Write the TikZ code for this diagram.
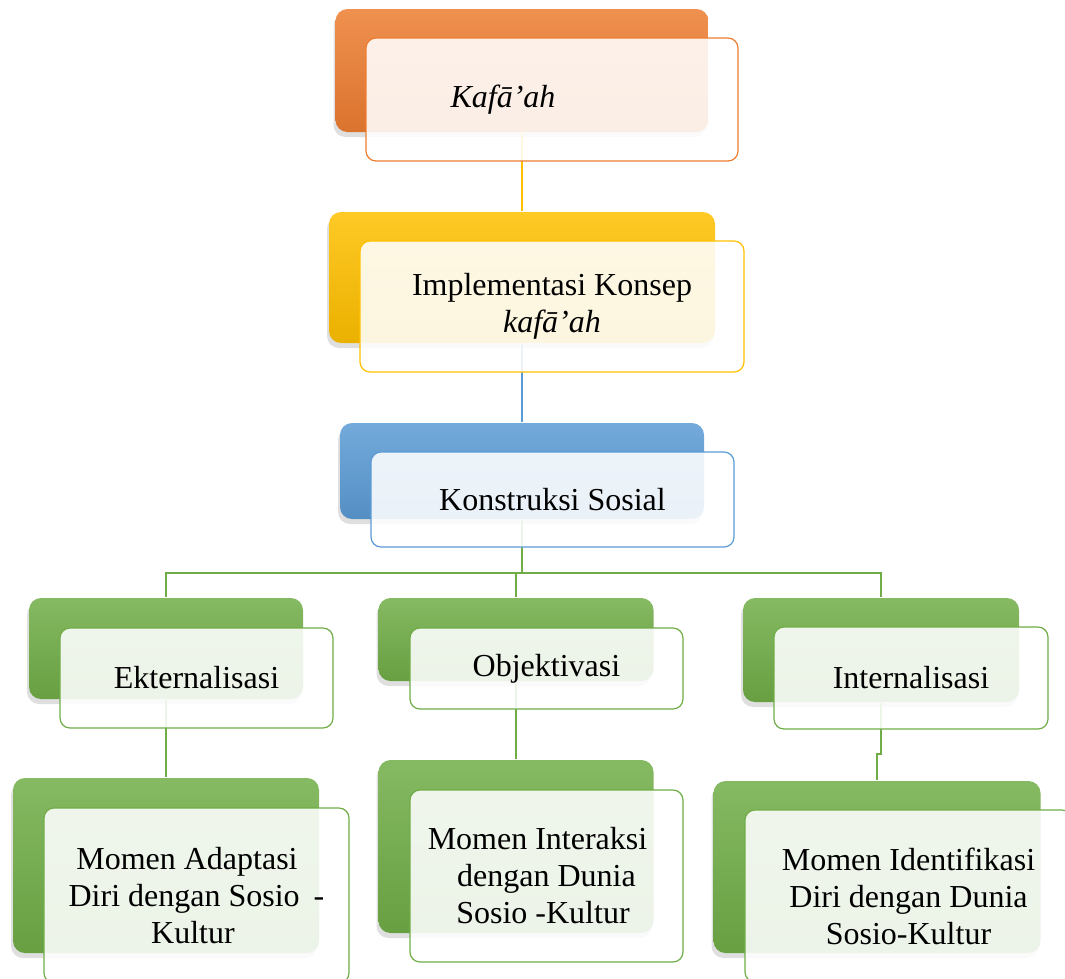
\documentclass[tikz,border=0pt]{standalone}
\usepackage{fontspec}
\setmainfont{Liberation Serif}
\usetikzlibrary{shadows}
\definecolor{corange}{HTML}{ED7D31}
\definecolor{cyellow}{HTML}{FFC000}
\definecolor{cblue}{HTML}{5B9BD5}
\definecolor{cgreen}{HTML}{70AD47}
\tikzset{
  every picture/.style={line width=1.2pt},
  dim/.style 2 args={minimum width=#1, minimum height=#2},
  back/.style={rounded corners=12pt, inner sep=0pt, top color=#1!85!white, bottom color=#1!92!black,
    drop shadow={shadow xshift=-2pt, shadow yshift=-5pt, opacity=0.25}},
  front/.style={draw=#1, rounded corners=10pt, fill=white, fill opacity=0.88, text opacity=1,
    align=center, inner sep=0pt, font=\fontsize{32}{37}\selectfont},
  link/.style={draw=#1, line width=2pt},
}

\begin{document}
\begin{tikzpicture}[x=1pt, y=-1pt]
  \useasboundingbox (0,0) rectangle (1065,978);
  \clip (0,0) rectangle (1065,978);
  \node[back=corange, dim={373pt}{123pt}] (kafback) at (522,70.5) {};
  \node[back=cyellow, dim={386pt}{131pt}] (implback) at (522,277.5) {};
  \node[back=cblue, dim={364pt}{96pt}] (konback) at (522,471) {};
  \node[back=cgreen, dim={274pt}{101pt}] (eksback) at (166,648.5) {};
  \node[back=cgreen, dim={275pt}{83pt}] (objback) at (516,639.5) {};
  \node[back=cgreen, dim={276pt}{104pt}] (intback) at (881,650) {};
  \node[back=cgreen, dim={306pt}{175pt}] (adapback) at (166,865.5) {};
  \node[back=cgreen, dim={275pt}{173pt}] (interback) at (516,846.5) {};
  \node[back=cgreen, dim={327pt}{172pt}] (identback) at (877,867) {};

  \coordinate (fork) at (522,573);
  \draw[link=cyellow] (kafback.south) -- (implback.north);
  \draw[link=cblue] (implback.south) -- (konback.north);
  \draw[link=cgreen] (konback.south) -- (fork);
  \draw[link=cgreen] (eksback.north) |- (fork) -| (intback.north);
  \draw[link=cgreen] (fork) -| (objback.north);
  \draw[link=cgreen] (eksback.south) -- (adapback.north);
  \draw[link=cgreen] (objback.south) -- (interback.north);
  \draw[link=cgreen] (intback.south) -- ++(0,51) -| (identback.north);

  \node[front=corange, dim={372pt}{123pt}] (kaf) at (552,99.5) {\textit{Kafā’ah}\hspace*{98pt}};
  \node[front=cyellow, dim={384pt}{131pt}] (impl) at (552,306.5) {Implementasi Konsep\\\textit{kafā’ah}};
  \node[front=cblue, dim={363pt}{95pt}] (kon) at (552.5,499.5) {Konstruksi Sosial};
  \node[front=cgreen, dim={273pt}{100pt}] (eks) at (196.5,678) {Ekternalisasi};
  \node[front=cgreen, dim={273pt}{81pt}] (obj) at (546.5,668.5) {Objektivasi};
  \node[front=cgreen, dim={274pt}{102pt}] (int) at (911,678) {Internalisasi};
  \node[front=cgreen, dim={305pt}{175pt}] (adap) at (196.5,895.5) {Momen Adaptasi\hspace*{19pt}\\Diri dengan Sosio\hspace{14pt}-\\Kultur\hspace*{7pt}};
  \node[front=cgreen, dim={273pt}{172pt}] (inter) at (546.5,876) {Momen Interaksi\hspace*{18pt}\\dengan Dunia\hspace*{15pt}\\Sosio -Kultur\hspace*{7pt}};
  \node[front=cgreen, dim={327pt}{172pt}] (ident) at (908.5,896) {Momen Identifikasi\\Diri dengan Dunia\\Sosio-Kultur};
\end{tikzpicture}
\end{document}
